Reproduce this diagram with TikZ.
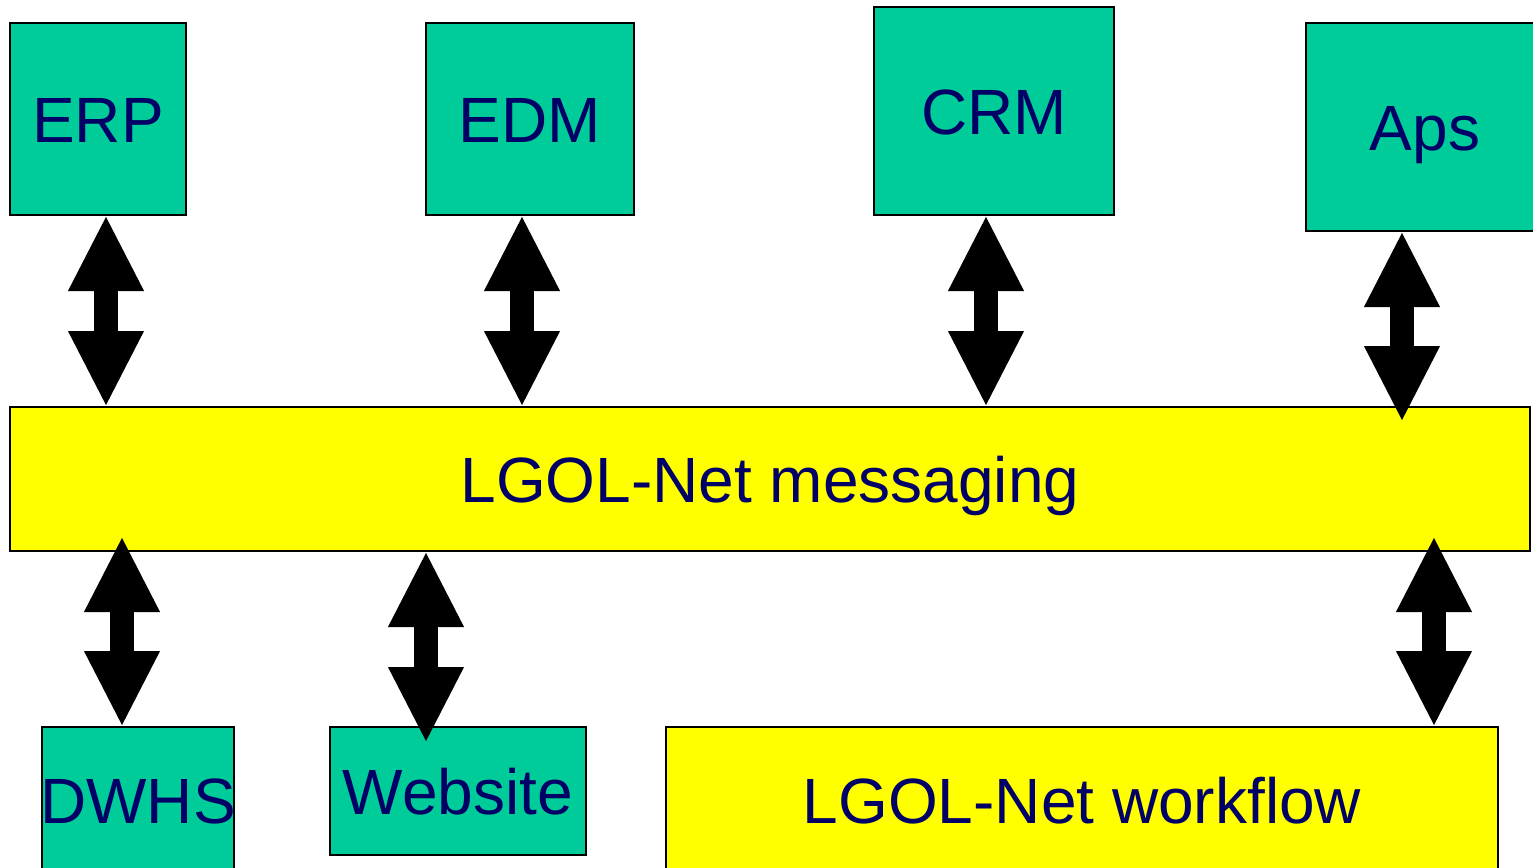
\documentclass[tikz,border=0pt]{standalone}
\usepackage{fontspec}
\setmainfont{Liberation Sans}
\usetikzlibrary{arrows.meta}
\definecolor{boxgreen}{HTML}{00CC99}
\definecolor{busyellow}{HTML}{FFFF00}
\definecolor{txtnavy}{HTML}{000066}
\begin{document}
\begin{tikzpicture}[x=0.5pt,y=-0.5pt,
  blk/.style={draw=black, line width=0.75pt, text=txtnavy,
    font=\fontsize{32}{38}\selectfont, text height=23pt, text depth=0pt,
    inner sep=0pt, anchor=center},
  sysbox/.style={blk, fill=boxgreen},
  busbox/.style={blk, fill=busyellow},
  dbl/.style={line width=12pt, draw=black,
    {Triangle[width=35pt,length=38pt]}-{Triangle[width=35pt,length=38pt]}}]
\useasboundingbox (0,0) rectangle (1533,868);
\clip (0,0) rectangle (1533,868);
\fill[white] (0,0) rectangle (1533,868);
% systems (top)
\node[sysbox, minimum width=88pt, minimum height=96pt] (erp) at (98,119) {ERP};
\node[sysbox, minimum width=104pt, minimum height=96pt] (edm) at (530,119) {EDM};
\node[sysbox, minimum width=120pt, minimum height=104pt] (crm) at (994,111) {CRM};
\node[sysbox, minimum width=119pt, minimum height=104pt] (aps) at (1425,127) {Aps};
% messaging bus
\node[busbox, minimum width=760pt, minimum height=72pt] (msg) at (770,479) {LGOL-Net messaging};
% bottom
\node[sysbox, inner xsep=-2pt, minimum width=96pt, minimum height=73pt] (dwhs) at (138,800) {DWHS};
\node[sysbox, minimum width=128pt, minimum height=64pt] (web) at (458,791) {Website};
\node[busbox, minimum width=416pt, minimum height=73pt] (wf) at (1082,800) {LGOL-Net workflow};
% connector end points
\coordinate (a1s) at (106,215); \coordinate (a1e) at (106,407);
\coordinate (a2s) at (522,215); \coordinate (a2e) at (522,407);
\coordinate (a3s) at (986,215); \coordinate (a3e) at (986,407);
\coordinate (a4s) at (1402,231); \coordinate (a4e) at (1402,422);
\coordinate (a5s) at (122,536); \coordinate (a5e) at (122,727);
\coordinate (a6s) at (426,551); \coordinate (a6e) at (426,743);
\coordinate (a7s) at (1434,536); \coordinate (a7e) at (1434,727);
\draw[dbl] (a1s) -- (a1e);
\draw[dbl] (a2s) -- (a2e);
\draw[dbl] (a3s) -- (a3e);
\draw[dbl] (a4s) -- (a4e);
\draw[dbl] (a5s) -- (a5e);
\draw[dbl] (a6s) -- (a6e);
\draw[dbl] (a7s) -- (a7e);
\end{tikzpicture}
\end{document}
